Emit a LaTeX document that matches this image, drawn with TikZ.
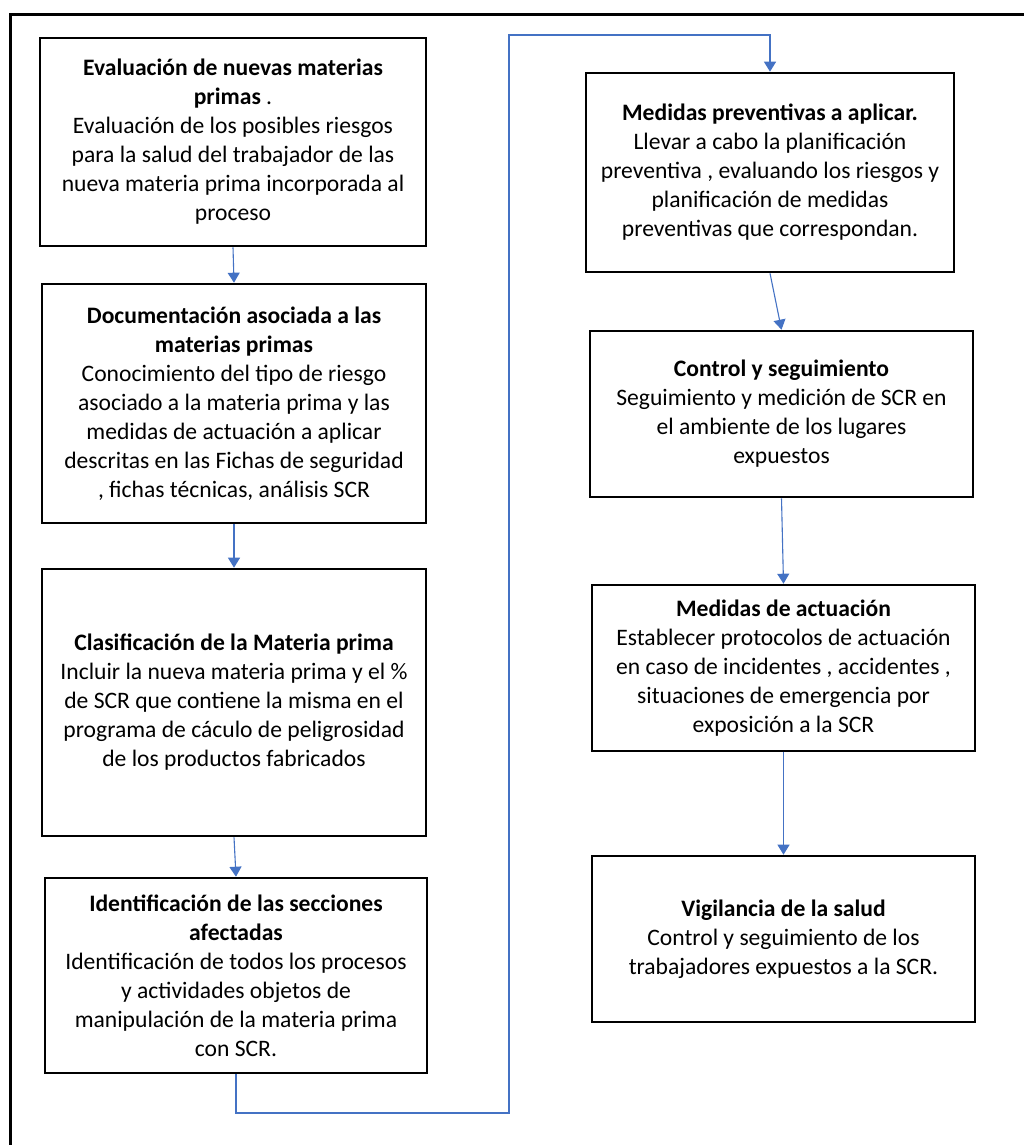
\documentclass[tikz,border=0pt]{standalone}
\usepackage{fontspec}
\setmainfont{Carlito}
\usetikzlibrary{arrows.meta}
\definecolor{linkblue}{HTML}{4472C4}
\tikzset{
  stepbox/.style={draw=black, line width=2.6pt, inner sep=0pt, align=center,
    font=\fontsize{23.6}{29}\selectfont},
  conn/.style={draw=linkblue, line width=1.1pt, -{Triangle[width=12pt,length=10pt]}},
  frame/.style={draw=black, line width=3pt}
}
\begin{document}
\begin{tikzpicture}[x=1pt,y=-1pt]
\clip (0,0) rectangle (1024,1145);
\fill[white] (0,0) rectangle (1024,1145);
\draw[frame] (10,15) rectangle (1040,1160);

\node[stepbox, minimum width=386pt, minimum height=208pt] (b1) at (233,142)
  {\textbf{Evaluación de nuevas materias}\\\textbf{primas} .\\Evaluación de los posibles riesgos\\para la salud del trabajador de las\\nueva materia prima incorporada al\\proceso};
\node[stepbox, minimum width=384pt, minimum height=239pt] (b2) at (234,403.5)
  {\textbf{Documentación asociada a las}\\\textbf{materias primas}\\Conocimiento del tipo de riesgo\\asociado a la materia prima y las\\medidas de actuación a aplicar\\descritas en las Fichas de seguridad\\, fichas técnicas, análisis SCR};
\node[stepbox, minimum width=384pt, minimum height=267pt] (b3) at (234,702.5)
  {\textbf{Clasificación de la Materia prima}\\Incluir la nueva materia prima y el \%\\de SCR que contiene la misma en el\\programa de cáculo de peligrosidad\\de los productos fabricados};
\node[stepbox, minimum width=382pt, minimum height=195pt] (b4) at (236,975.5)
  {\textbf{Identificación de las secciones}\\\textbf{afectadas}\\Identificación de todos los procesos\\y actividades objetos de\\manipulación de la materia prima\\con SCR.};
\node[stepbox, minimum width=368pt, minimum height=199pt] (b5) at (770,172.5)
  {\textbf{Medidas preventivas a aplicar.}\\Llevar a cabo la planificación\\preventiva , evaluando los riesgos y\\planificación de medidas\\preventivas que correspondan.};
\node[stepbox, minimum width=383pt, minimum height=166pt] (b6) at (781.5,414)
  {\textbf{Control y seguimiento}\\Seguimiento y medición de SCR en\\el ambiente de los lugares\\expuestos};
\node[stepbox, minimum width=383pt, minimum height=166pt] (b7) at (783.5,668)
  {\textbf{Medidas de actuación}\\Establecer protocolos de actuación\\en caso de incidentes , accidentes ,\\situaciones de emergencia por\\exposición a la SCR};
\node[stepbox, minimum width=383pt, minimum height=166pt] (b8) at (783.5,939)
  {\textbf{Vigilancia de la salud}\\Control y seguimiento de los\\trabajadores expuestos a la SCR.};

\coordinate (c1) at (509,1113);
\coordinate (c2) at (509,35);

\draw[conn] (b1.south) -- (b2.north);
\draw[conn] (b2.south) -- (b3.north);
\draw[conn] (b3.south) -- (b4.north);
\draw[conn] (b4.south) |- (c1) -- (c2) -| (b5.north);
\draw[conn] (b5.south) -- (b6.north);
\draw[conn] (b6.south) -- (b7.north);
\draw[conn] (b7.south) -- (b8.north);
\end{tikzpicture}
\end{document}
